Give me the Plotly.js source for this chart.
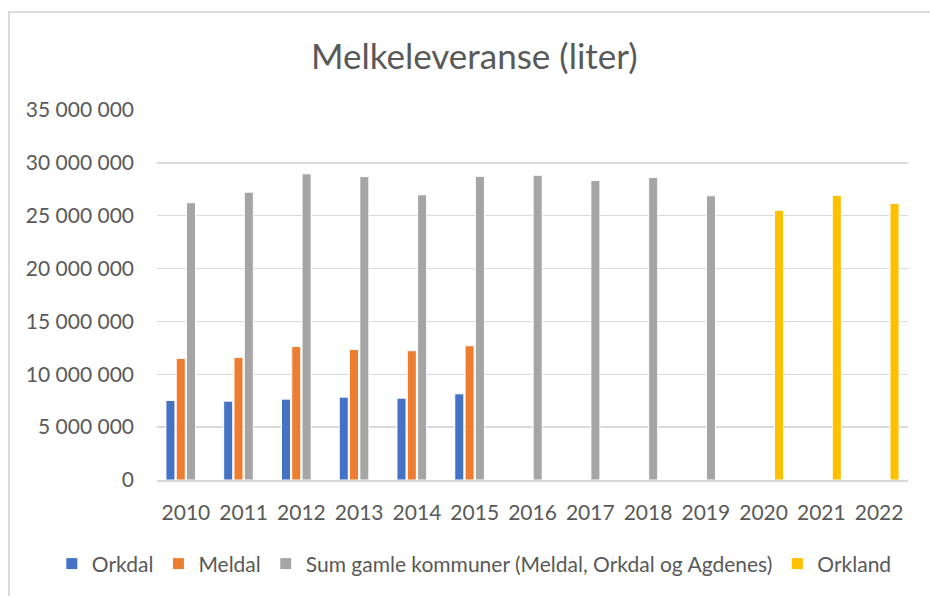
<!DOCTYPE html>
<html>
<head>
<meta charset="utf-8">
<script src="https://cdn.plot.ly/plotly-3.0.1.min.js"></script>
<style>
  html, body { margin: 0; padding: 0; background: #ffffff; overflow: hidden; width: 930px; height: 596px; }
  #frame { position: absolute; left: 8px; top: 11px; width: 940px; height: 600px; border: 2px solid #dcdcdc; box-sizing: border-box; }
  #chart { position: absolute; left: 0; top: 0; width: 930px; height: 596px; }
</style>
</head>
<body>
<div id="frame"></div>
<div id="chart"></div>
<script>
const years = ["2010","2011","2012","2013","2014","2015","2016","2017","2018","2019","2020","2021","2022"];
const orkdal = [7530000, 7460000, 7650000, 7840000, 7740000, 8150000, null, null, null, null, null, null, null];
const meldal = [11500000, 11600000, 12630000, 12350000, 12230000, 12700000, null, null, null, null, null, null, null];
const sumGamle = [26230000, 27230000, 28960000, 28700000, 26980000, 28730000, 28830000, 28330000, 28610000, 26890000, null, null, null];
const orkland = [null, null, null, null, null, null, null, null, null, null, 25510000, 26920000, 26170000];
const seriesNames = ["Orkdal", "Meldal", "Sum gamle kommuner (Meldal, Orkdal og Agdenes)", "Orkland"];
const seriesColors = ["#4472C4", "#ED7D31", "#A5A5A5", "#FFC000"];
const seriesValues = [orkdal, meldal, sumGamle, orkland];

const FONT = "Lato, 'Noto Sans', sans-serif";
const TXT = "#595959";

const traces = seriesValues.map((vals, i) => ({
  type: "bar",
  name: seriesNames[i],
  x: years,
  y: vals,
  marker: { color: seriesColors[i], line: { color: "#ffffff", width: 1 } },
  hoverinfo: "x+y+name"
}));

const layout = {
  width: 930,
  height: 596,
  paper_bgcolor: "rgba(0,0,0,0)",
  plot_bgcolor: "rgba(0,0,0,0)",
  separators: ", ",
  margin: { l: 157, r: 22, t: 110, b: 113 },
  barmode: "group",
  bargap: 0.287,
  bargroupgap: 0.12,
  title: {
    text: "Melkeleveranse (liter)",
    font: { family: FONT, size: 35, color: TXT },
    x: 0.51, xref: "container", xanchor: "center",
    y: 0.904, yref: "container", yanchor: "middle"
  },
  xaxis: {
    type: "category",
    tickfont: { family: FONT, size: 21, color: TXT },
    showgrid: false,
    showline: true,
    linecolor: "#d9d9d9",
    linewidth: 1.5,
    ticks: "",
    ticklabelstandoff: 13,
    fixedrange: true
  },
  yaxis: {
    range: [0, 35000000],
    dtick: 5000000,
    tick0: 0,
    tickformat: ",d",
    tickfont: { family: FONT, size: 21, color: TXT },
    showgrid: true,
    gridcolor: "#d9d9d9",
    gridwidth: 1.3,
    zeroline: false,
    showline: false,
    ticks: "",
    ticklabelstandoff: 22,
    fixedrange: true
  },
  showlegend: true,
  legend: {
    orientation: "h",
    x: -0.14, xref: "paper", xanchor: "left",
    y: -0.227, yref: "paper", yanchor: "middle",
    font: { family: FONT, size: 21, color: TXT },
    itemwidth: 30,
    tracegroupgap: 0,
    traceorder: "normal",
    bgcolor: "rgba(0,0,0,0)"
  }
};

Plotly.newPlot("chart", traces, layout, { displayModeBar: false, staticPlot: true });
</script>
</body>
</html>
